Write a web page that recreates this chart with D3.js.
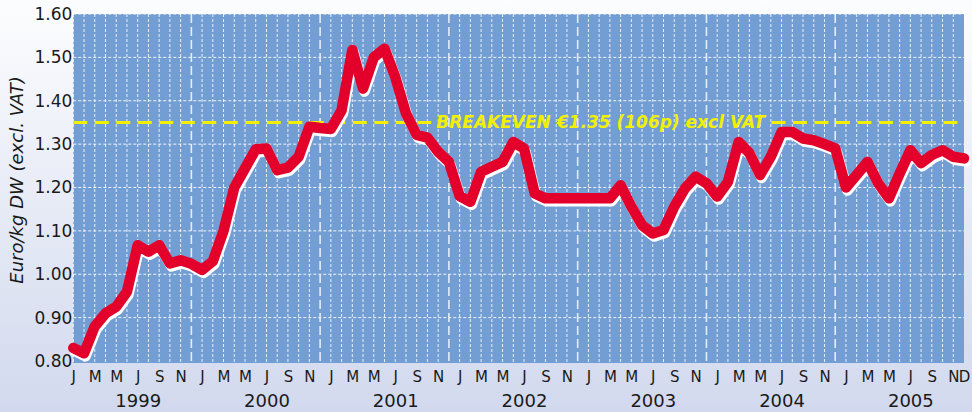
<!DOCTYPE html>
<html>
<head>
<meta charset="utf-8">
<script src="https://cdn.jsdelivr.net/npm/d3@7"></script>
<style>
  body { margin: 0; background: #ffffff; }
  #canvas svg { display: block; }
</style>
</head>
<body>
<div id="canvas"></div>
<script>
var canvas;
var width = 972;
var height = 412;
var x, y;

// monthly price, Jan 1999 .. Dec 2005 (Euro/kg DW)
var prices = [
  0.830, 0.818, 0.880, 0.910, 0.925, 0.960, 1.067, 1.052, 1.067, 1.025, 1.032, 1.024,
  1.010, 1.030, 1.100, 1.200, 1.244, 1.288, 1.290, 1.240, 1.246, 1.271, 1.340, 1.337,
  1.335, 1.378, 1.517, 1.428, 1.500, 1.520, 1.455, 1.371, 1.321, 1.315, 1.282, 1.259,
  1.180, 1.167, 1.236, 1.248, 1.259, 1.305, 1.290, 1.186, 1.175, 1.175, 1.175, 1.175,
  1.175, 1.175, 1.175, 1.205, 1.156, 1.113, 1.094, 1.102, 1.156, 1.198, 1.225, 1.210,
  1.179, 1.213, 1.305, 1.279, 1.229, 1.271, 1.328, 1.328, 1.313, 1.309, 1.300, 1.290,
  1.200, 1.229, 1.259, 1.210, 1.175, 1.232, 1.286, 1.256, 1.275, 1.286, 1.271, 1.267
];
var monthLetters = ["J", "F", "M", "A", "M", "J", "J", "A", "S", "O", "N", "D"];
var years = [1999, 2000, 2001, 2002, 2003, 2004, 2005];
var yTicks = [0.80, 0.90, 1.00, 1.10, 1.20, 1.30, 1.40, 1.50, 1.60];
var breakeven = 1.35;
var breakevenLabel = "BREAKEVEN \u20ac1.35 (106p) excl VAT";
var yTitle = "Euro/kg DW (excl. VAT)";

function drawBackground(){
  var grad = canvas.append("defs").append("linearGradient")
    .attr("id", "bg").attr("x1", 0).attr("y1", 0).attr("x2", 0).attr("y2", 1);
  grad.append("stop").attr("offset", "0%").attr("stop-color", "#fcfdfe");
  grad.append("stop").attr("offset", "100%").attr("stop-color", "#d2d9ee");
  canvas.append("rect").attr("width", width).attr("height", height).attr("fill", "url(#bg)");

  canvas.append("rect")
    .attr("x", x(0)).attr("y", y(1.6))
    .attr("width", x(prices.length - 1) - x(0))
    .attr("height", y(0.8) - y(1.6) + 2)
    .attr("fill", "#739ed3");
}

function drawGrid(){
  var top = y(1.6), bottom = y(0.8) + 2;

  //horizontal
  canvas.append("g").selectAll("line")
    .data(yTicks.slice(1))
    .enter().append("line")
    .attr("x1", x(0)).attr("x2", x(prices.length - 1))
    .attr("y1", function(d){ return y(d); })
    .attr("y2", function(d){ return y(d); })
    .attr("stroke", "#ffffff").attr("stroke-width", 1)
    .attr("stroke-dasharray", "3,2").attr("opacity", 0.9);

  //one per month, year ends get the long dash
  var idx = d3.range(0, prices.length - 1);
  canvas.append("g").selectAll("line")
    .data(idx.filter(function(i){ return i % 12 != 11; }))
    .enter().append("line")
    .attr("x1", function(i){ return x(i); })
    .attr("x2", function(i){ return x(i); })
    .attr("y1", top).attr("y2", bottom)
    .attr("stroke", "#ffffff").attr("stroke-width", 1)
    .attr("stroke-dasharray", "3,2").attr("opacity", 0.85);

  canvas.append("g").selectAll("line")
    .data(idx.filter(function(i){ return i % 12 == 11; }))
    .enter().append("line")
    .attr("x1", function(i){ return x(i); })
    .attr("x2", function(i){ return x(i); })
    .attr("y1", top).attr("y2", bottom)
    .attr("stroke", "#e4ecf9").attr("stroke-width", 1.6)
    .attr("stroke-dasharray", "9,4");
}

function drawBreakeven(){
  var yb = y(breakeven);
  var label = canvas.append("text")
    .attr("x", (x(0) + x(prices.length - 1)) / 2 + 82)
    .attr("y", yb + 6)
    .attr("text-anchor", "middle")
    .attr("font-family", "DejaVu Sans")
    .attr("font-size", 17)
    .attr("font-weight", "bold")
    .attr("font-style", "italic")
    .attr("fill", "#f2ef00")
    .text(breakevenLabel);
  var box = label.node().getBBox();

  var segs = [[x(0), box.x - 5], [box.x + box.width + 5, x(prices.length - 1)]];
  canvas.insert("g", "text").selectAll("line")
    .data(segs)
    .enter().append("line")
    .attr("x1", function(d){ return d[0]; })
    .attr("x2", function(d){ return d[1]; })
    .attr("y1", yb).attr("y2", yb)
    .attr("stroke", "#f2ef00").attr("stroke-width", 3)
    .attr("stroke-dasharray", "14,7.5");
}

function drawLine(){
  var line = d3.line()
    .x(function(d, i){ return x(i); })
    .y(function(d){ return y(d); });

  canvas.append("path").datum(prices)
    .attr("d", line)
    .attr("transform", "translate(1.5,3)")
    .attr("fill", "none").attr("stroke", "#ffffff")
    .attr("stroke-width", 10.5)
    .attr("stroke-linejoin", "round").attr("stroke-linecap", "round");

  canvas.append("path").datum(prices)
    .attr("d", line)
    .attr("fill", "none").attr("stroke", "#e3002a")
    .attr("stroke-width", 10.5)
    .attr("stroke-linejoin", "round").attr("stroke-linecap", "round");
}

function drawAxes(){
  var yAxis = d3.axisLeft(y)
    .tickValues(yTicks)
    .tickFormat(d3.format(".2f"))
    .tickSize(0).tickPadding(1);
  var gy = canvas.append("g").attr("transform", "translate(" + x(0) + ",0)").call(yAxis);
  gy.select(".domain").remove();
  gy.attr("font-family", "DejaVu Sans").attr("font-size", 17);
  gy.selectAll("text").attr("fill", "#1a1a1a");

  var monthTicks = d3.range(0, prices.length, 2).concat([prices.length - 1]);
  var mAxis = d3.axisBottom(x)
    .tickValues(monthTicks)
    .tickFormat(function(i){ return monthLetters[i % 12]; })
    .tickSize(0).tickPadding(10);
  var gm = canvas.append("g").attr("transform", "translate(0," + y(0.8) + ")").call(mAxis);
  gm.select(".domain").remove();
  gm.attr("font-family", "DejaVu Sans").attr("font-size", 15);
  gm.selectAll("text").attr("fill", "#1a1a1a");

  var yAxisYears = d3.axisBottom(x)
    .tickValues(years.map(function(d, k){ return k * 12 + 6; }))
    .tickFormat(function(i){ return years[Math.floor(i / 12)]; })
    .tickSize(0).tickPadding(33);
  var gyr = canvas.append("g").attr("transform", "translate(0," + y(0.8) + ")").call(yAxisYears);
  gyr.select(".domain").remove();
  gyr.attr("font-family", "DejaVu Sans").attr("font-size", 18);
  gyr.selectAll("text").attr("fill", "#1a1a1a");

  canvas.append("text")
    .attr("transform", "translate(23,180) rotate(-90)")
    .attr("text-anchor", "middle")
    .attr("font-family", "DejaVu Sans")
    .attr("font-style", "italic")
    .attr("font-size", 18)
    .attr("fill", "#1a1a1a")
    .text(yTitle);
}

function initializeLayout(){
  canvas = d3.select("#canvas")
    .append("svg")
    .attr("width", width + "px")
    .attr("height", height + "px");

  x = d3.scaleLinear().domain([0, prices.length - 1]).range([73.3, 964]);
  y = d3.scaleLinear().domain([0.8, 1.6]).range([361, 14]);

  drawBackground();
  drawGrid();
  drawBreakeven();
  drawLine();
  drawAxes();
}

window.onload = initializeLayout;
</script>
</body>
</html>
